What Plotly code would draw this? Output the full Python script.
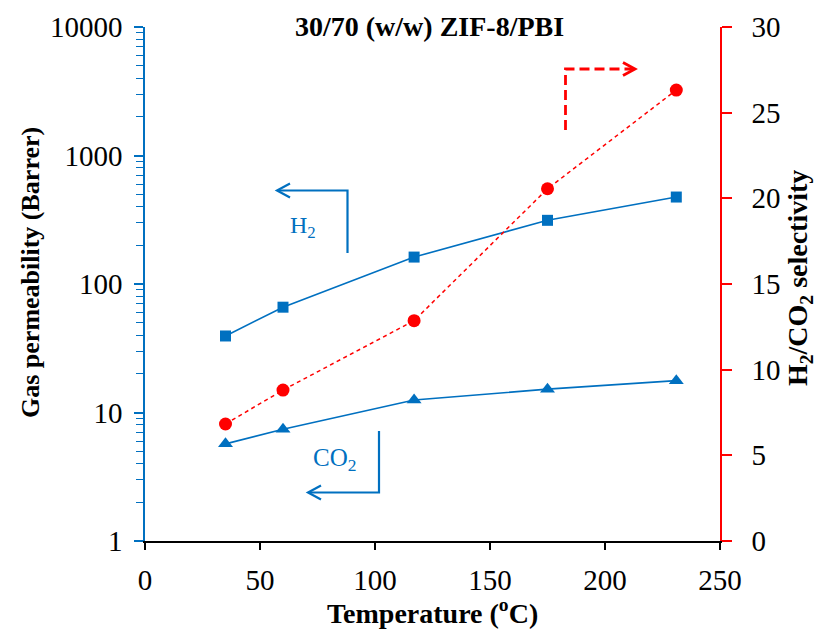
import plotly.graph_objects as go

# Measured data: 30/70 (w/w) ZIF-8/PBI membrane
temperature_c = [35, 60, 117, 175, 231]
h2_permeability = [39.4, 66, 162, 313, 475]
co2_permeability = [5.7, 7.4, 12.5, 15.2, 17.7]
h2_co2_selectivity = [6.83, 8.81, 12.86, 20.56, 26.32]

x_ticks = [0, 50, 100, 150, 200, 250]
perm_ticks = [1, 10, 100, 1000, 10000]
perm_tick_text = ["1", "10", "100", "1000", "10000"]
sel_ticks = [0, 5, 10, 15, 20, 25, 30]

BLUE = "#0070C0"
RED = "#FF0000"
SERIF = "Liberation Serif"

W, H = 816, 632
ML, MR, MT, MB = 145, 96, 27, 91
PW, PH = W - ML - MR, H - MT - MB


def px(x):
    """pixel x -> paper x"""
    return (x - ML) / PW


def py(y):
    """pixel y -> paper y"""
    return (H - MB - y) / PH


fig = go.Figure()

fig.add_trace(go.Scatter(
    x=temperature_c, y=h2_permeability, mode="lines+markers", name="H2",
    line=dict(color=BLUE, width=1.6),
    marker=dict(symbol="square", size=11, color=BLUE),
))
fig.add_trace(go.Scatter(
    x=temperature_c, y=co2_permeability, mode="lines+markers", name="CO2",
    line=dict(color=BLUE, width=1.6),
    marker=dict(symbol="triangle-up", size=13, color=BLUE),
))
fig.add_trace(go.Scatter(
    x=temperature_c, y=h2_co2_selectivity, mode="lines+markers", name="H2/CO2",
    yaxis="y2",
    line=dict(color=RED, width=1.5, dash="4px,3.5px"),
    marker=dict(symbol="circle", size=13, color=RED),
))

tick_font = dict(family=SERIF, size=29, color="black")

fig.update_layout(
    width=W, height=H,
    margin=dict(l=ML, r=MR, t=MT, b=MB, pad=0),
    paper_bgcolor="white", plot_bgcolor="white",
    showlegend=False,
    font=dict(family=SERIF, color="black"),
    xaxis=dict(
        range=[0, 250], tickvals=x_ticks, showgrid=False, zeroline=False,
        showline=True, linecolor="black", linewidth=1.5,
        ticks="outside", ticklen=7, tickwidth=1.5, tickcolor="black",
        tickfont=tick_font, ticklabelstandoff=5,
    ),
    yaxis=dict(
        type="log", range=[0, 4], tickvals=perm_ticks, ticktext=perm_tick_text,
        showgrid=False, zeroline=False,
        showline=True, linecolor=BLUE, linewidth=1.5,
        ticks="outside", ticklen=9, tickwidth=1.5, tickcolor=BLUE,
        tickfont=tick_font, ticklabelstandoff=6,
        minor=dict(dtick="D1", ticks="outside", ticklen=7, tickwidth=1.2,
                   tickcolor=BLUE, showgrid=False),
    ),
    yaxis2=dict(
        overlaying="y", side="right", range=[0, 30], tickvals=sel_ticks,
        showgrid=False, zeroline=False,
        showline=True, linecolor=RED, linewidth=1.5,
        ticks="outside", ticklen=10, tickwidth=1.5, tickcolor=RED,
        tickfont=tick_font, ticklabelstandoff=14,
    ),
)

# Titles
fig.add_annotation(xref="paper", yref="paper", x=px(429), y=py(26),
                   text="<b>30/70 (w/w) ZIF-8/PBI</b>", showarrow=False,
                   font=dict(family=SERIF, size=28, color="black"),
                   xanchor="center", yanchor="middle")
fig.add_annotation(xref="paper", yref="paper", x=px(432), y=py(611),
                   text="<b>Temperature (<sup>o</sup>C)</b>", showarrow=False,
                   font=dict(family=SERIF, size=28, color="black"),
                   xanchor="center", yanchor="middle")
fig.add_annotation(xref="paper", yref="paper", x=px(30), y=py(273),
                   text="<b>Gas permeability (Barrer)</b>", showarrow=False,
                   textangle=-90,
                   font=dict(family=SERIF, size=26, color="black"),
                   xanchor="center", yanchor="middle")
fig.add_annotation(xref="paper", yref="paper", x=px(799), y=py(278),
                   text="<b>H<sub>2</sub>/CO<sub>2</sub> selectivity</b>",
                   showarrow=False, textangle=-90,
                   font=dict(family=SERIF, size=28, color="black"),
                   xanchor="center", yanchor="middle")

# Series labels
fig.add_annotation(xref="paper", yref="paper", x=px(303), y=py(227),
                   text="H<sub>2</sub>", showarrow=False,
                   font=dict(family=SERIF, size=24, color=BLUE),
                   xanchor="center", yanchor="middle")
fig.add_annotation(xref="paper", yref="paper", x=px(334), y=py(459),
                   text="CO<sub>2</sub>", showarrow=False,
                   font=dict(family=SERIF, size=25, color=BLUE),
                   xanchor="center", yanchor="middle")


def elbow_arrow(points, tip, back, color, width, dash=None):
    """Poly-line plus an open chevron head; coordinates in pixels."""
    path = "M " + " L ".join(f"{px(x):.5f},{py(y):.5f}" for x, y in points)
    fig.add_shape(type="path", xref="paper", yref="paper", path=path,
                  line=dict(color=color, width=width, dash=dash))
    tx, ty = tip
    bx, by = back
    head = (f"M {px(tx + bx):.5f},{py(ty - by):.5f} "
            f"L {px(tx):.5f},{py(ty):.5f} "
            f"L {px(tx + bx):.5f},{py(ty + by):.5f}")
    fig.add_shape(type="path", xref="paper", yref="paper", path=head,
                  line=dict(color=color, width=width))


# H2 -> left axis
elbow_arrow([(347.5, 253), (347.5, 190.5), (278, 190.5)],
            tip=(277, 190.5), back=(13, 7), color=BLUE, width=2.2)
# CO2 -> left axis
elbow_arrow([(379, 431), (379, 492.5), (309, 492.5)],
            tip=(308, 492.5), back=(13, 7), color=BLUE, width=2.2)
# Selectivity -> right axis
elbow_arrow([(565.5, 130), (565.5, 69), (634, 69)],
            tip=(635, 69), back=(-12, 6.5), color=RED, width=2.8,
            dash="10px,5px")

fig.write_html("out.html")
